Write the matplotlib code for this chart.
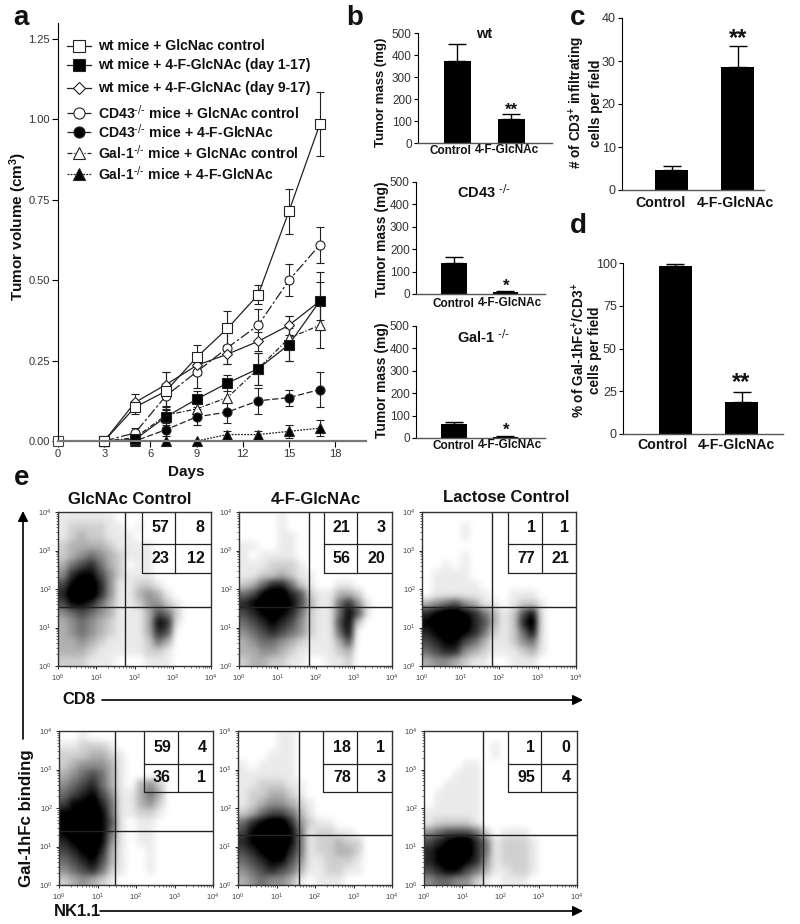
import matplotlib
matplotlib.use('Agg')
import matplotlib.pyplot as plt
from matplotlib.colors import PowerNorm
import numpy as np

plt.rcParams['font.family'] = ['Liberation Sans', 'DejaVu Sans']
plt.rcParams['mathtext.default'] = 'regular'

W, H = 800, 924
TICK_GRAY = '#333333'
KO = r'$^{\text{-/-}}$'

# panel a
days = [3, 5, 7, 9, 11, 13, 15, 17]
wt_ctrl = [0.0, 0.105, 0.155, 0.26, 0.35, 0.455, 0.715, 0.985]
wt_ctrl_err = [0.0, 0.02, 0.06, 0.04, 0.055, 0.03, 0.07, 0.10]
wt_f1 = [0.0, 0.005, 0.075, 0.13, 0.18, 0.225, 0.30, 0.435]
wt_f1_err = [0.0, 0.0, 0.03, 0.025, 0.025, 0.05, 0.05, 0.09]
wt_f9 = [0.0, 0.12, 0.175, 0.235, 0.27, 0.31, 0.36, 0.435]
wt_f9_err = [0.0, 0.025, 0.04, 0.03, 0.03, 0.03, 0.03, 0.06]
cd43_ctrl = [0.0, 0.025, 0.14, 0.215, 0.29, 0.36, 0.50, 0.61]
cd43_ctrl_err = [0.0, 0.015, 0.04, 0.05, 0.05, 0.05, 0.05, 0.055]
cd43_f = [0.0, 0.0, 0.035, 0.075, 0.09, 0.125, 0.135, 0.16]
cd43_f_err = [0.0, 0.0, 0.02, 0.025, 0.035, 0.04, 0.025, 0.055]
gal_ctrl = [0.0, 0.01, 0.08, 0.10, 0.135, 0.225, 0.32, 0.36]
gal_ctrl_err = [0.0, 0.0, 0.03, 0.03, 0.04, 0.05, 0.07, 0.07]
gal_f = [0.0, 0.0, 0.0, 0.0, 0.02, 0.02, 0.03, 0.04]
gal_f_err = [0.0, 0.0, 0.0, 0.0, 0.01, 0.01, 0.02, 0.025]

# panels b, c, d
mass_wt = [372, 110]
mass_wt_err = [80, 20]
mass_cd43 = [140, 8]
mass_cd43_err = [25, 7]
mass_gal = [62, 6]
mass_gal_err = [8, 4]
cd3_cells = [4.6, 28.5]
cd3_cells_err = [1.0, 4.9]
gal_pct = [98, 18.5]
gal_pct_err = [1.5, 6]

# panel e: dot density per quarter decade, read by eye, top row = 10^3.75..10^4
glc_cd8 = ['1111110000000000',
           '1222211010000000',
           '1232211100000000',
           '2333321111000000',
           '2345432111000000',
           '3567532011000000',
           '4788642111000000',
           '6899741122100000',
           '7999741134310000',
           '6887531124421000',
           '4565431113652000',
           '3454321113871000',
           '3454321113760000',
           '3343211112530000',
           '3332111112210000',
           '2221110001110000']
f_cd8 = ['0000100000000000',
         '0000100000000000',
         '0000110000000000',
         '1100110000000000',
         '1011110000000000',
         '1112221000000000',
         '1122321100000000',
         '2357752100110000',
         '5689976211332000',
         '7899986311574100',
         '6789875211586100',
         '5678764211682000',
         '4567654211580000',
         '3455432111360000',
         '3344321111230000',
         '2332211001120000']
lac_cd8 = ['0000000000000000',
           '0000100000000000',
           '0000100000000000',
           '0000000000000000',
           '0000100000000000',
           '0010100000000000',
           '0111100000000000',
           '0111110000000000',
           '0111111001110000',
           '3456431101221000',
           '7899875312681000',
           '8999976312791000',
           '7899875212581000',
           '6788653112451000',
           '5677432111231000',
           '3443211001110000']
glc_nk = ['0010000000000000',
          '1122210000000000',
          '2223321000000000',
          '2344431000000000',
          '3456531000100000',
          '4567531034200000',
          '5678641135300000',
          '6889751134200000',
          '8899851122100000',
          '9999861011000000',
          '8999851011000000',
          '7899841011000000',
          '6789731001000000',
          '5678631001000000',
          '4567521001000000',
          '2343210000000000']
f_nk = ['0000110000000000',
        '0000110000000000',
        '0001110000000000',
        '1011110000000000',
        '1111110000000000',
        '1122211000000000',
        '1223321000000000',
        '1234432100000000',
        '2356653100000000',
        '5789974211000000',
        '6899985122110000',
        '7899985122322000',
        '6789975122332000',
        '5678864112221000',
        '4567653112211000',
        '3454431011100000']
lac_nk = ['0000000000000000',
          '0000000100000000',
          '0000000100000000',
          '0000110000000000',
          '0001110000000000',
          '0011110000000000',
          '0111110000000000',
          '0111110000000000',
          '1111110000000000',
          '1222210000000000',
          '4566652011100000',
          '6789975122210000',
          '7899975122210000',
          '7899874122210000',
          '6788653112210000',
          '4554421011100000']
pct_glc_cd8 = [57, 8, 23, 12]
pct_f_cd8 = [21, 3, 56, 20]
pct_lac_cd8 = [1, 1, 77, 21]
pct_glc_nk = [59, 4, 36, 1]
pct_f_nk = [18, 1, 78, 3]
pct_lac_nk = [1, 0, 95, 4]

fig = plt.figure(figsize=(W / 100, H / 100), dpi=100)
page = fig.add_axes([0, 0, 1, 1], zorder=5)
page.set_xlim(0, W)
page.set_ylim(H, 0)
page.axis('off')
page.patch.set_alpha(0)


def ax_px(left, top, right, bottom):
    return fig.add_axes([left / W, 1 - bottom / H, (right - left) / W, (bottom - top) / H])


def bold(x, y, s, size, **kw):
    kw.setdefault('ha', 'center')
    kw.setdefault('va', 'center')
    page.text(x, y, s, fontsize=size, fontweight='bold', color='#111111', **kw)


for letter, x, y in [('a', 21, 18), ('b', 355, 18), ('c', 578, 18), ('d', 578, 226), ('e', 22, 478)]:
    bold(x, y, letter, 20)

# a
ax = ax_px(58, 23, 366, 441)
series = [(wt_ctrl, wt_ctrl_err, 's', 'white', '-'),
          (wt_f1, wt_f1_err, 's', 'black', '-'),
          (wt_f9, wt_f9_err, 'D', 'white', '-'),
          (cd43_ctrl, cd43_ctrl_err, 'o', 'white', (0, (8, 2, 2, 2))),
          (cd43_f, cd43_f_err, 'o', 'black', (0, (5, 2))),
          (gal_ctrl, gal_ctrl_err, '^', 'white', (0, (4, 1.5, 1, 1.5))),
          (gal_f, gal_f_err, '^', 'black', (0, (1.5, 1)))]
for vals, errs, mark, face, ls in reversed(series):
    ax.errorbar(days, vals, yerr=errs, color='#222222', lw=0.9, ls=ls, marker=mark, mfc=face, mec='#222222',
                mew=0.8, ms=5 if mark == 'D' else 6.5, capsize=3.2, elinewidth=0.8, capthick=0.8, clip_on=False)
ax.plot([0], [0], marker='s', mfc='white', mec='#444444', ms=6.5, mew=0.8, clip_on=False)
ax.set_xlim(0, 20)
ax.set_ylim(0, 1.3)
ax.set_xticks([0, 3, 6, 9, 12, 15, 18])
ax.set_yticks([0, 0.25, 0.5, 0.75, 1.0, 1.25])
ax.set_yticklabels(['0.00', '0.25', '0.50', '0.75', '1.00', '1.25'])
ax.tick_params(labelsize=8, labelcolor=TICK_GRAY, length=4, width=0.8, pad=2)
ax.spines[['top', 'right']].set_visible(False)
ax.spines['bottom'].set_linewidth(1.6)
ax.spines['bottom'].set_color('#777777')
ax.spines['left'].set_linewidth(0.8)
bold(186, 472, 'Days', 11)
bold(18, 226, 'Tumor volume (cm$^{3}$)', 11, rotation=90)

legend_rows = [(46, 'wt mice + GlcNac control'),
               (65, 'wt mice + 4-F-GlcNAc (day 1-17)'),
               (88, 'wt mice + 4-F-GlcNAc (day 9-17)'),
               (113, 'CD43' + KO + ' mice + GlcNAc control'),
               (132, 'CD43' + KO + ' mice + 4-F-GlcNAc'),
               (153, 'Gal-1' + KO + ' mice + GlcNAc control'),
               (174, 'Gal-1' + KO + ' mice + 4-F-GlcNAc')]
for (y, label), (vals, errs, mark, face, ls) in zip(legend_rows, series):
    page.plot([67, 91], [y, y], color='#222222', lw=0.9, ls=ls)
    page.plot([79], [y], marker=mark, mfc=face, mec='#222222', mew=0.8, ms=6 if mark == 'D' else 8, ls='none')
    bold(98, y, label, 10.1, ha='left')


def bars(box, vals, errs, xlim, ymax, yticks, width=0.5, fs=8.5):
    a = ax_px(*box)
    a.bar([0, 1], vals, width=width, color='black')
    a.errorbar([0, 1], vals, yerr=[[0, 0], errs], fmt='none', ecolor='black', elinewidth=1, capsize=6.5, capthick=1)
    a.set_xlim(*xlim)
    a.set_ylim(0, ymax)
    a.set_xticks([])
    a.set_yticks(yticks)
    a.tick_params(labelsize=fs, labelcolor=TICK_GRAY, length=3, width=0.8, pad=1.5)
    a.spines[['top', 'right']].set_visible(False)
    a.spines['left'].set_linewidth(0.8)
    a.spines['bottom'].set_linewidth(1.0)
    a.spines['bottom'].set_color('#555555')


# b
mass_ticks = [0, 100, 200, 300, 400, 500]
bars((418, 33, 552, 143), mass_wt, mass_wt_err, (-0.73, 1.75), 500, mass_ticks)
bars((416, 182, 545, 294), mass_cd43, mass_cd43_err, (-0.74, 1.77), 500, mass_ticks)
bars((416, 326, 545, 438), mass_gal, mass_gal_err, (-0.74, 1.77), 500, mass_ticks)
for title_y, lab_y, tx, sx, sy, stars, title in [(34, 151, 450, 511, 110, '**', 'wt'),
                                                 (192, 304, 453, 506, 286, '*', 'CD43 ' + KO),
                                                 (337, 446, 453, 506, 430, '*', 'Gal-1 ' + KO)]:
    bold(484, title_y, title, 10.5)
    bold(tx, lab_y, 'Control', 8.5)
    bold(tx + 57, lab_y - 1, '4-F-GlcNAc', 8.5)
    bold(sx, sy, stars, 12)
bold(381, 92, 'Tumor mass (mg)', 9.5, rotation=90)
bold(382, 239, 'Tumor mass (mg)', 10, rotation=90)
bold(382, 380, 'Tumor mass (mg)', 10, rotation=90)

# c
bars((622, 18, 764, 190), cd3_cells, cd3_cells_err, (-0.75, 1.40), 40, [0, 10, 20, 30, 40], fs=9)
bold(660, 203, 'Control', 10.2)
bold(735, 203, '4-F-GlcNAc', 10.2)
bold(738, 39, '**', 17)
bold(585, 103, '# of CD3$^{+}$ infiltrating\ncells per field', 9.8, rotation=90, linespacing=1.15)

# d
bars((623, 263, 783, 434), gal_pct, gal_pct_err, (-0.79, 1.62), 100, [0, 25, 50, 75, 100], fs=9)
bold(662, 445, 'Control', 10.2)
bold(736, 445, '4-F-GlcNAc', 10.2)
bold(741, 383, '**', 17)
bold(586, 350, '% of Gal-1hFc$^{+}$/CD3$^{+}$\ncells per field', 9.8, rotation=90, linespacing=1.15)

# e
flow_panels = [((58, 512, 211, 666), glc_cd8, pct_glc_cd8, 1.75, 1.53, 2.20, 3.07, 2.42, 3.17),
               ((239, 512, 392, 666), f_cd8, pct_f_cd8, 1.82, 1.53, 2.21, 3.09, 2.42, 3.17),
               ((422, 512, 576, 666), lac_cd8, pct_lac_cd8, 1.83, 1.53, 2.24, 3.12, 2.42, 3.17),
               ((59, 731, 213, 885), glc_nk, pct_glc_nk, 1.46, 1.39, 2.21, 3.08, 2.41, 3.15),
               ((238, 731, 392, 885), f_nk, pct_f_nk, 1.58, 1.31, 2.20, 3.10, 2.41, 3.15),
               ((424, 731, 577, 885), lac_nk, pct_lac_nk, 1.54, 1.31, 2.19, 3.07, 2.41, 3.15)]
decades = [0, 1, 2, 3, 4]
minor = [d + np.log10(m) for d in decades[:-1] for m in range(2, 10)]
dec_labels = ['$10^{%d}$' % d for d in decades]
for box, grid, pct, vx, hy, tl, tm, tb, ts in flow_panels:
    a = ax_px(*box)
    density = np.array([[int(c) for c in row] for row in grid])
    a.imshow(density, cmap='gray_r', norm=PowerNorm(1.2, vmin=0, vmax=8), extent=(0, 4, 0, 4), aspect='auto',
             interpolation='gaussian')
    a.set_xlim(0, 4)
    a.set_ylim(0, 4)
    a.axvline(vx, color='#222222', lw=1)
    a.axhline(hy, color='#222222', lw=1)
    a.plot([tl, tl, 4], [4, tb, tb], color='#222222', lw=0.9)
    a.plot([tl, 4], [ts, ts], color='#222222', lw=0.9)
    a.plot([tm, tm], [tb, 4], color='#222222', lw=0.9)
    cells = [(tm - 0.17, (ts + 4) / 2), (3.83, (ts + 4) / 2), (tm - 0.17, (tb + ts) / 2), (3.83, (tb + ts) / 2)]
    for (cx, cy), v in zip(cells, pct):
        a.text(cx, cy, str(v), ha='right', va='center', fontsize=11.5, fontweight='bold', color='#111111')
    a.set_xticks(decades)
    a.set_yticks(decades)
    a.set_xticklabels(dec_labels)
    a.set_yticklabels(dec_labels)
    a.set_xticks(minor, minor=True)
    a.set_yticks(minor, minor=True)
    a.tick_params(labelsize=5.5, labelcolor='#444444', length=2.5, width=0.6, pad=2)
    a.tick_params(which='minor', length=1.2, width=0.4)
    for s in a.spines.values():
        s.set_linewidth(1.0)
        s.set_color('#333333')

bold(130, 500, 'GlcNAc Control', 12)
bold(316, 500, '4-F-GlcNAc', 12)
bold(506, 497, 'Lactose Control', 12)
bold(79, 700, 'CD8', 12)
bold(77, 911, 'NK1.1', 12)
bold(26, 818, 'Gal-1hFc binding', 12.2, rotation=90)
for x0, y0, x1, y1 in [(102, 700, 583, 700), (100, 911, 583, 911), (23, 739, 23, 511)]:
    page.annotate('', xy=(x1, y1), xytext=(x0, y0),
                  arrowprops=dict(arrowstyle='-|>,head_width=0.3,head_length=0.6', color='black', lw=1.2,
                                  shrinkA=0, shrinkB=0))

fig.savefig('out.png', dpi=100)
